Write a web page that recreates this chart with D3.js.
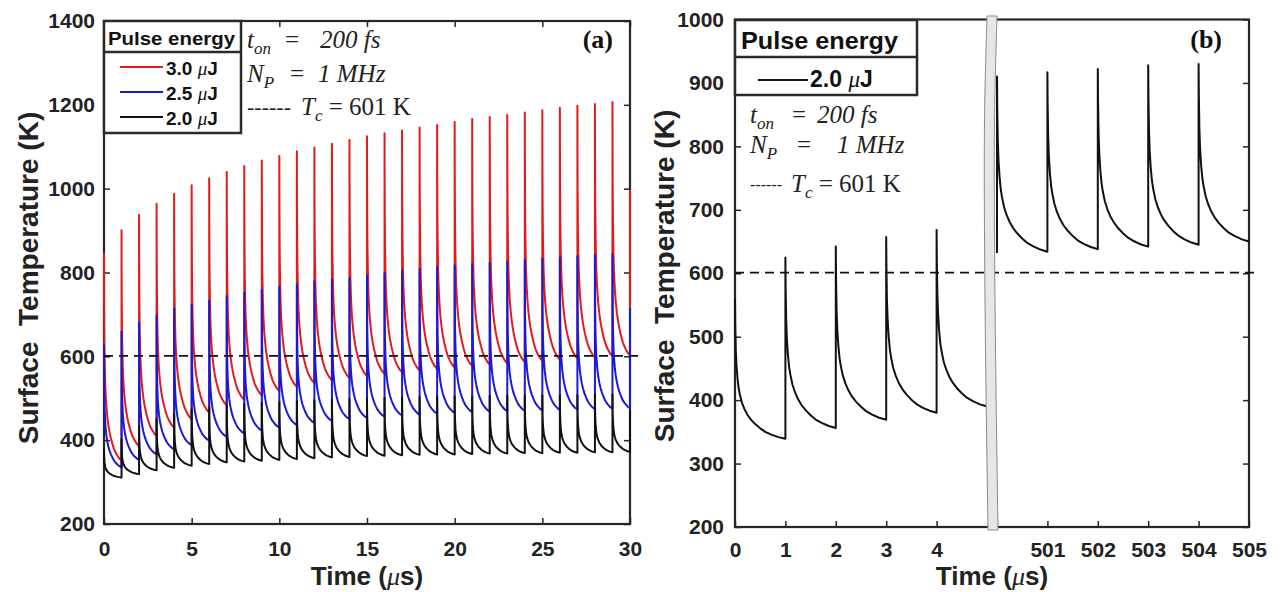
<!DOCTYPE html>
<html><head><meta charset="utf-8">
<script src="https://cdn.jsdelivr.net/npm/d3@7"></script>
<style>body{margin:0;background:#fff}svg{display:block}text{white-space:pre}</style>
</head><body><svg id="c" width="1280" height="592"></svg>
<script>
// ---------------- data ----------------
// Panel (a): one pulse per microsecond, t = 0..29
const pulseTimesA = [0,1,2,3,4,5,6,7,8,9,10,11,12,13,14,15,16,17,18,19,20,21,22,23,24,25,26,27,28,29];
const redPeaks   = [847,901,938,964,988,1008,1025,1040,1054,1067,1078,1089,1098,1107,1116,1125,1132,1139,1146,1152,1159,1166,1171,1176,1182,1187,1193,1198,1202,1207];
const redTroughs = [351,386,410,430,450,466,483,496,507,517,527,536,543,548,553,558,562,566,570,573,577,580,583,586,589,592,595,597,600,602];
const redFinal = 997;
const bluePeaks   = [627,659,680,698,714,723,733,744,752,759,766,772,779,783,787,793,798,804,809,813,817,820,824,827,830,833,836,839,841,844];
const blueTroughs = [335,353,366,378,388,399,408,416,423,430,436,441,446,450,453,456,459,461,463,465,467,468,469,470,471,472,473,474,475,476];
const blueFinal = 716;
const blackPeaks   = [380,402,434,450,462,474,478,482,486,489,491,493,495,497,498,500,501,502,503,504,505,505,506,506,507,507,508,508,509,509];
const blackTroughs = [311,319,328,334,339,343,347,349,351,353,355,357,359,360,362,363,364,365,366,366,367,368,368,369,369,370,370,371,371,372];
const blackFinal = 470;
const legendLabelsA = ["3.0", "2.5", "2.0"];
const seriesColors = ["#e31a1c", "#1a1ad4", "#111111"];

// Panel (b): 2.0 uJ, early pulses and pulses after 500 us
const pulseTimesBLeft = [0,1,2,3,4];
const peaksBLeft   = [560,625,642,657,668];
const troughsBLeft = [339,356,369,380,390];
const endBLeft = 4.98;
const pulseTimesBRight = [500,501,502,503,504];
const startBRight = 632;
const peaksBRight   = [910,917,922,928,930];
const troughsBRight = [634,638,642,645,650];

// shape of the cooling between two pulses (fraction of period, fraction of drop)
const decayDt   = [0,0.005,0.015,0.03,0.05,0.075,0.1,0.14,0.19,0.25,0.32,0.4,0.5,0.6,0.72,0.86,1.0];
const decayDrop = [0,0.18,0.36,0.48,0.57,0.645,0.69,0.745,0.79,0.83,0.865,0.895,0.925,0.95,0.97,0.988,1.0];

const Tc = 601;
const yTicksA = [200,400,600,800,1000,1200,1400];
const xTicksA = [0,5,10,15,20,25,30];
const yTicksB = [200,300,400,500,600,700,800,900,1000];
const xTicksBLeft = [0,1,2,3,4];
const xTicksBRight = [501,502,503,504,505];

// ---------------- drawing ----------------
const svg = d3.select("#c");
const SANS = "'Liberation Sans', Arial, Helvetica, sans-serif";
const SERIF = "'Liberation Serif', 'Times New Roman', serif";
const AX = "#262626";
const fmt = d3.format("d");

function train(times, peaks, troughs, start, final) {
  const pts = [];
  times.forEach((t0, i) => {
    const period = i < times.length - 1 ? times[i + 1] - t0 : 1;
    if (i === 0 && start != null) pts.push([t0, start]);
    pts.push([t0, peaks[i]]);
    for (let k = 1; k < decayDt.length; k++) {
      pts.push([t0 + decayDt[k] * period, peaks[i] - decayDrop[k] * (peaks[i] - troughs[i])]);
    }
  });
  if (final != null) pts.push([pts[pts.length - 1][0], final]);
  return pts;
}

function styleAxis(g, size) {
  g.select(".domain").remove();
  g.selectAll(".tick line").attr("stroke", AX).attr("stroke-width", 1.5);
  g.selectAll(".tick text").attr("fill", "#222").attr("font-family", SANS)
    .attr("font-weight", "bold").attr("font-size", size);
}

// ===== Panel (a) =====
const xA = d3.scaleLinear().domain([0, 30]).range([104, 630]);
const yA = d3.scaleLinear().domain([200, 1400]).range([524, 21]);
const gA = svg.append("g");

// frame + ticks (drawn below the data)
gA.append("rect").attr("x", xA(0)).attr("y", yA(1400)).attr("width", xA(30) - xA(0))
  .attr("height", yA(200) - yA(1400)).attr("fill", "none").attr("stroke", AX).attr("stroke-width", 2.2);
gA.append("g").attr("transform", `translate(${xA(0)},0)`)
  .call(d3.axisLeft(yA).tickValues(yTicksA).tickFormat(fmt).tickSize(-6).tickPadding(9)).call(g => styleAxis(g, 21));
gA.append("g").attr("transform", `translate(${xA(30)},0)`)
  .call(d3.axisRight(yA).tickValues(yTicksA).tickSize(-6).tickFormat("")).call(g => styleAxis(g, 21));
gA.append("g").attr("transform", `translate(0,${yA(200)})`)
  .call(d3.axisBottom(xA).tickValues(xTicksA).tickFormat(fmt).tickSize(-6).tickPadding(17)).call(g => styleAxis(g, 21));
gA.append("g").attr("transform", `translate(0,${yA(1400)})`)
  .call(d3.axisTop(xA).tickValues(xTicksA).tickSize(-6).tickFormat("")).call(g => styleAxis(g, 21));

const lineA = d3.line().x(d => xA(d[0])).y(d => yA(d[1]));
const seriesA = [
  train(pulseTimesA, redPeaks, redTroughs, null, redFinal),
  train(pulseTimesA, bluePeaks, blueTroughs, null, blueFinal),
  train(pulseTimesA, blackPeaks, blackTroughs, null, blackFinal)
];
seriesA.forEach((pts, i) => {
  gA.append("path").attr("d", lineA(pts)).attr("fill", "none")
    .attr("stroke", seriesColors[i]).attr("stroke-width", 2).attr("stroke-linejoin", "round");
});
// Tc line
gA.append("line").attr("x1", xA(0)).attr("x2", xA(30) + 10).attr("y1", yA(Tc)).attr("y2", yA(Tc))
  .attr("stroke", "#111").attr("stroke-width", 1.6).attr("stroke-dasharray", "9,6");

// axis titles
gA.append("text").attr("transform", `translate(38,278) rotate(-90)`).attr("text-anchor", "middle")
  .attr("font-family", SANS).attr("font-weight", "bold").attr("font-size", 28).attr("fill", "#222")
  .text("Surface  Temperature (K)");
const tA = gA.append("text").attr("x", (xA(0) + xA(30)) / 2).attr("y", 585).attr("text-anchor", "middle")
  .attr("font-family", SANS).attr("font-weight", "bold").attr("font-size", 26).attr("fill", "#222");
tA.append("tspan").text("Time (");
tA.append("tspan").attr("font-style", "italic").attr("font-weight", "normal").attr("font-family", SERIF).text("μ");
tA.append("tspan").text("s)");

// legend (a)
const lgA = gA.append("g");
lgA.append("rect").attr("x", 104).attr("y", 21).attr("width", 137).attr("height", 112)
  .attr("fill", "#fff").attr("stroke", "#2a2a2a").attr("stroke-width", 2.5);
lgA.append("line").attr("x1", 104).attr("x2", 241).attr("y1", 52).attr("y2", 52).attr("stroke", "#2a2a2a").attr("stroke-width", 2.5);
lgA.append("text").attr("x", 108).attr("y", 45).attr("font-family", SANS).attr("font-weight", "bold")
  .attr("font-size", 19).attr("textLength", 127).attr("lengthAdjust", "spacingAndGlyphs").attr("fill", "#111").text("Pulse energy");
legendLabelsA.forEach((lab, i) => {
  const yy = 67 + i * 25;
  lgA.append("line").attr("x1", 120).attr("x2", 163).attr("y1", yy).attr("y2", yy)
    .attr("stroke", seriesColors[i]).attr("stroke-width", 1.8);
  const t = lgA.append("text").attr("x", 166).attr("y", yy + 8).attr("font-family", SANS)
    .attr("font-weight", "bold").attr("font-size", 19).attr("fill", "#111");
  t.append("tspan").text(lab + " ");
  t.append("tspan").attr("font-family", SERIF).attr("font-style", "italic").attr("font-weight", "normal").text("μ");
  t.append("tspan").text("J");
});

function annot(g, x0, ys, xs, dashSize) {
  const f = (y) => g.append("text").attr("y", y).attr("font-family", SERIF).attr("font-size", 25).attr("fill", "#222");
  let t = f(ys[0]);
  t.append("tspan").attr("x", x0).attr("font-style", "italic").text("t");
  t.append("tspan").attr("font-style", "italic").attr("font-size", 17).attr("dy", 6).text("on");
  t.append("tspan").attr("x", xs[0]).attr("dy", -6).text("=");
  t.append("tspan").attr("x", xs[1]).attr("font-style", "italic").text("200 fs");
  t = f(ys[1]);
  t.append("tspan").attr("x", x0).attr("font-style", "italic").text("N");
  t.append("tspan").attr("font-style", "italic").attr("font-size", 17).attr("dy", 6).text("P");
  t.append("tspan").attr("x", xs[2]).attr("dy", -6).text("=");
  t.append("tspan").attr("x", xs[3]).attr("font-style", "italic").text("1 MHz");
  t = f(ys[2]);
  const dShift = -(25 - dashSize) * 0.26;
  t.append("tspan").attr("x", x0).attr("font-size", dashSize).attr("dy", dShift).text("------");
  t.append("tspan").attr("x", xs[4]).attr("dy", -dShift).attr("font-style", "italic").text("T");
  t.append("tspan").attr("font-style", "italic").attr("font-size", 17).attr("dy", 6).text("c");
  t.append("tspan").attr("dy", -6).text(" = 601 K");
}
annot(gA, 247, [48, 82, 115], [285, 320, 290, 318, 301], 22);
gA.append("text").attr("x", 613).attr("y", 48).attr("text-anchor", "end").attr("font-family", SERIF)
  .attr("font-weight", "bold").attr("font-size", 26).attr("fill", "#111").text("(a)");

// ===== Panel (b) =====
const yB = d3.scaleLinear().domain([200, 1000]).range([527, 19.5]);
const xBL = d3.scaleLinear().domain([0, 5]).range([735, 987]);
const xBR = d3.scaleLinear().domain([500, 505]).range([997, 1249]);
const gB = svg.append("g");

// frame (below the data)
gB.append("rect").attr("x", xBL(0)).attr("y", yB(1000)).attr("width", xBR(505) - xBL(0))
  .attr("height", yB(200) - yB(1000)).attr("fill", "none").attr("stroke", AX).attr("stroke-width", 2.2);
gB.append("g").attr("transform", `translate(${xBL(0)},0)`)
  .call(d3.axisLeft(yB).tickValues(yTicksB).tickFormat(fmt).tickSize(-6).tickPadding(11)).call(g => styleAxis(g, 21));
gB.append("g").attr("transform", `translate(${xBR(505)},0)`)
  .call(d3.axisRight(yB).tickValues(yTicksB).tickSize(-6).tickFormat("")).call(g => styleAxis(g, 21));
gB.append("g").attr("transform", `translate(0,${yB(200)})`)
  .call(d3.axisBottom(xBL).tickValues(xTicksBLeft).tickFormat(fmt).tickSize(-6).tickPadding(15)).call(g => styleAxis(g, 21));
gB.append("g").attr("transform", `translate(0,${yB(200)})`)
  .call(d3.axisBottom(xBR).tickValues(xTicksBRight).tickFormat(fmt).tickSize(-6).tickPadding(15)).call(g => styleAxis(g, 21));

svg.append("defs").append("clipPath").attr("id", "clipL").append("rect")
  .attr("x", 730).attr("y", 0).attr("width", xBL(endBLeft) - 730).attr("height", 592);

gB.append("path").attr("clip-path", "url(#clipL)")
  .attr("d", d3.line().x(d => xBL(d[0])).y(d => yB(d[1]))(train(pulseTimesBLeft, peaksBLeft, troughsBLeft, null, null)))
  .attr("fill", "none").attr("stroke", "#111").attr("stroke-width", 2).attr("stroke-linejoin", "round");
gB.append("path")
  .attr("d", d3.line().x(d => xBR(d[0])).y(d => yB(d[1]))(train(pulseTimesBRight, peaksBRight, troughsBRight, startBRight, null)))
  .attr("fill", "none").attr("stroke", "#111").attr("stroke-width", 2).attr("stroke-linejoin", "round");

gB.append("line").attr("x1", xBL(0)).attr("x2", xBR(505) + 8).attr("y1", yB(Tc)).attr("y2", yB(Tc))
  .attr("stroke", "#111").attr("stroke-width", 1.6).attr("stroke-dasharray", "9,6");

// axis break band
const bx = (xBL(5) + xBR(500)) / 2;
const bandL = [[bx - 5, 16], [bx - 7.5, 120], [bx - 7, 300], [bx - 4, 530]];
const bandR = bandL.map(p => [p[0] + 10, p[1]]).reverse();
const bandLine = d3.line().curve(d3.curveCatmullRom);
gB.append("path").attr("d", bandLine(bandL) + "L" + bandLine(bandR).slice(1) + "Z")
  .attr("fill", "#e6e6e6").attr("stroke", "#8a8a8a").attr("stroke-width", 1);

// titles
gB.append("text").attr("transform", `translate(674,276) rotate(-90)`).attr("text-anchor", "middle")
  .attr("font-family", SANS).attr("font-weight", "bold").attr("font-size", 28).attr("fill", "#222")
  .text("Surface  Temperature (K)");
const tB = gB.append("text").attr("x", 992).attr("y", 585).attr("text-anchor", "middle")
  .attr("font-family", SANS).attr("font-weight", "bold").attr("font-size", 26).attr("fill", "#222");
tB.append("tspan").text("Time (");
tB.append("tspan").attr("font-style", "italic").attr("font-weight", "normal").attr("font-family", SERIF).text("μ");
tB.append("tspan").text("s)");

// legend (b)
const lgB = gB.append("g");
lgB.append("rect").attr("x", 735).attr("y", 20).attr("width", 182).attr("height", 75)
  .attr("fill", "#fff").attr("stroke", "#2a2a2a").attr("stroke-width", 2.5);
lgB.append("line").attr("x1", 735).attr("x2", 917).attr("y1", 57).attr("y2", 57).attr("stroke", "#2a2a2a").attr("stroke-width", 2.5);
lgB.append("text").attr("x", 741).attr("y", 49).attr("font-family", SANS).attr("font-weight", "bold")
  .attr("font-size", 23).attr("textLength", 157).attr("lengthAdjust", "spacingAndGlyphs").attr("fill", "#111").text("Pulse energy");
lgB.append("line").attr("x1", 758).attr("x2", 808).attr("y1", 80).attr("y2", 80).attr("stroke", "#111").attr("stroke-width", 1.8);
const tl = lgB.append("text").attr("x", 810).attr("y", 87).attr("font-family", SANS).attr("font-weight", "bold")
  .attr("font-size", 23).attr("fill", "#111");
tl.append("tspan").text(legendLabelsA[2] + " ");
tl.append("tspan").attr("font-family", SERIF).attr("font-style", "italic").attr("font-weight", "normal").text("μ");
tl.append("tspan").text("J");

annot(gB, 750, [123, 153, 192], [792, 817, 797, 837, 791], 16);
gB.append("text").attr("x", 1222).attr("y", 48).attr("text-anchor", "end").attr("font-family", SERIF)
  .attr("font-weight", "bold").attr("font-size", 26).attr("fill", "#111").text("(b)");
</script></body></html>
